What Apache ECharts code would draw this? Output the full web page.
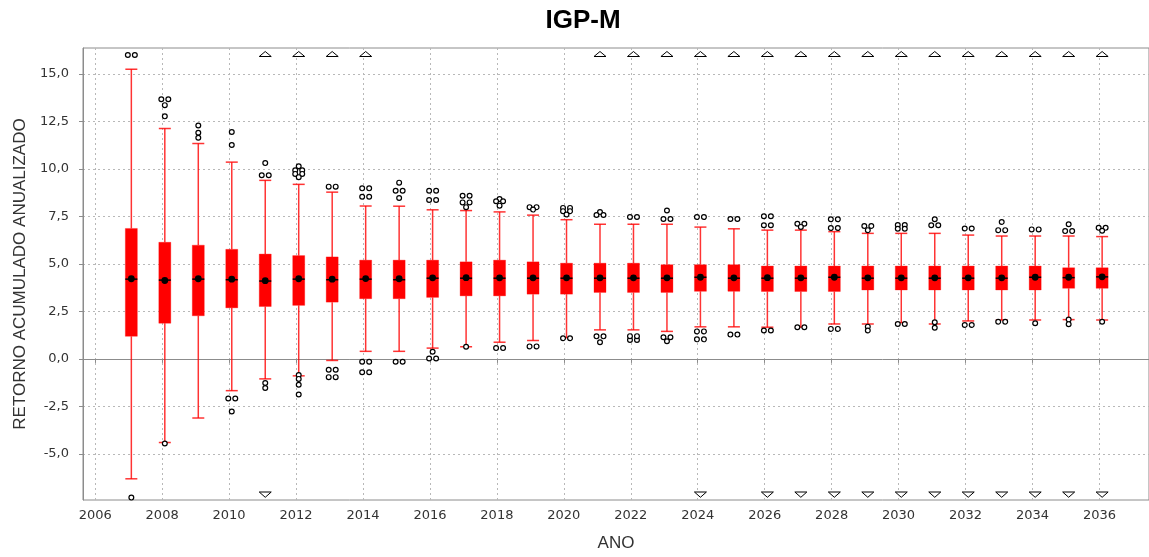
<!DOCTYPE html>
<html>
<head>
<meta charset="utf-8">
<title>IGP-M</title>
<script src="https://cdn.jsdelivr.net/npm/echarts@6/dist/echarts.min.js"></script>
<style>
  html, body { margin: 0; padding: 0; background: #ffffff; }
  #chart { width: 1149px; height: 557px; }
</style>
</head>
<body>
<div id="chart"></div>
<script>
// Annualised accumulated return of the IGP-M, one box per year.
const years = [2007, 2008, 2009, 2010, 2011, 2012, 2013, 2014, 2015, 2016,
               2017, 2018, 2019, 2020, 2021, 2022, 2023, 2024, 2025, 2026,
               2027, 2028, 2029, 2030, 2031, 2032, 2033, 2034, 2035, 2036];

// Upper whisker end (largest non-outlier value)
const whiskerHigh = [15.25, 12.13, 11.34, 10.36, 9.40, 9.19, 8.78, 8.05, 8.04, 7.85,
                     7.81, 7.74, 7.57, 7.33, 7.09, 7.09, 7.09, 6.94, 6.85, 6.78,
                     6.78, 6.70, 6.61, 6.61, 6.61, 6.52, 6.47, 6.47, 6.47, 6.44];

// Third quartile
const q3 = [6.87, 6.14, 5.99, 5.77, 5.52, 5.44, 5.37, 5.20, 5.20, 5.20,
            5.11, 5.20, 5.11, 5.04, 5.04, 5.04, 4.96, 4.96, 4.96, 4.89,
            4.89, 4.89, 4.89, 4.89, 4.89, 4.89, 4.89, 4.89, 4.80, 4.80];

// Median
const median = [4.20, 4.15, 4.20, 4.17, 4.10, 4.20, 4.17, 4.20, 4.17, 4.25,
                4.25, 4.25, 4.25, 4.25, 4.25, 4.25, 4.25, 4.30, 4.25, 4.25,
                4.25, 4.30, 4.25, 4.25, 4.25, 4.25, 4.25, 4.30, 4.28, 4.32];

// Mean
const mean = [4.22, 4.13, 4.22, 4.20, 4.12, 4.22, 4.20, 4.23, 4.22, 4.27,
              4.28, 4.27, 4.27, 4.27, 4.27, 4.27, 4.27, 4.30, 4.27, 4.28,
              4.27, 4.30, 4.27, 4.27, 4.27, 4.27, 4.27, 4.30, 4.30, 4.32];

// First quartile
const q1 = [1.19, 1.88, 2.27, 2.69, 2.76, 2.82, 2.99, 3.17, 3.17, 3.24,
            3.32, 3.32, 3.41, 3.41, 3.50, 3.50, 3.50, 3.56, 3.56, 3.55,
            3.55, 3.55, 3.63, 3.63, 3.63, 3.63, 3.63, 3.63, 3.72, 3.72];

// Lower whisker end (smallest non-outlier value)
const whiskerLow = [-6.31, -4.40, -3.11, -1.67, -1.05, -0.89, -0.08, 0.40, 0.40, 0.57,
                    0.64, 0.88, 0.97, 1.12, 1.53, 1.53, 1.45, 1.69, 1.69, 1.67,
                    1.67, 1.84, 1.84, 1.91, 1.84, 2.00, 2.05, 2.05, 2.07, 2.05];

// Outliers per year; a value listed twice is a group of coinciding outliers
const outliers = [
  [16.0, 16.0, -7.3],
  [13.67, 13.67, 13.36, 12.77, -4.45],
  [12.29, 11.91, 11.64],
  [11.95, 11.26, -2.08, -2.08, -2.77],
  [10.31, 9.67, 9.67, -1.27, -1.53],
  [10.14, 9.93, 9.93, 9.74, 9.74, 9.57, -0.85, -1.05, -1.36, -1.87],
  [9.07, 9.07, -0.57, -0.57, -0.96, -0.96],
  [8.98, 8.98, 8.54, 8.54, -0.15, -0.15, -0.70, -0.70],
  [9.28, 8.85, 8.85, 8.47, -0.15, -0.15],
  [8.85, 8.85, 8.37, 8.37, 0.38, 0.02, 0.02],
  [8.59, 8.59, 8.24, 8.24, 7.99, 0.64],
  [8.42, 8.30, 8.30, 8.07, 0.57, 0.57],
  [7.99, 7.99, 7.86, 0.66, 0.66],
  [7.95, 7.95, 7.78, 7.78, 7.60, 1.09, 1.09],
  [7.73, 7.58, 7.58, 1.19, 1.19, 0.88],
  [7.47, 7.47, 1.20, 1.20, 1.00, 1.00],
  [7.81, 7.37, 7.37, 1.14, 1.14, 0.93],
  [7.47, 7.47, 1.45, 1.45, 1.03, 1.03],
  [7.37, 7.37, 1.28, 1.28],
  [7.51, 7.51, 7.04, 7.04, 1.50, 1.50],
  [7.12, 7.12, 6.95, 1.67, 1.67],
  [7.35, 7.35, 6.89, 6.89, 1.58, 1.58],
  [7.00, 7.00, 6.78, 1.70, 1.50],
  [7.05, 7.05, 6.85, 6.85, 1.84, 1.84],
  [7.35, 7.04, 7.04, 1.93, 1.64],
  [6.87, 6.87, 1.79, 1.79],
  [7.21, 6.78, 6.78, 1.96, 1.96],
  [6.82, 6.82, 1.88],
  [7.09, 6.73, 6.73, 2.07, 1.83],
  [6.90, 6.90, 6.75, 1.96]
];

// Years with values beyond the visible range (marked by triangles)
const farHighYears = [2011, 2012, 2013, 2014, 2021, 2022, 2023, 2024, 2025, 2026,
                      2027, 2028, 2029, 2030, 2031, 2032, 2033, 2034, 2035, 2036];
const farLowYears = [2011, 2024, 2026, 2027, 2028, 2029, 2030, 2031, 2032, 2033,
                     2034, 2035, 2036];

// Tick labels
const xTickLabels = [2006, 2008, 2010, 2012, 2014, 2016, 2018, 2020, 2022, 2024,
                     2026, 2028, 2030, 2032, 2034, 2036];
const yTickLabels = [-5.0, -2.5, 0.0, 2.5, 5.0, 7.5, 10.0, 12.5, 15.0];

// Axis ranges
const X_MIN = 2005.636, X_MAX = 2037.48;
const Y_MIN = -7.426, Y_MAX = 16.368;
// Boxes sit slightly to the right of the year tick
const BOX_SHIFT = 0.08;
const BOX_W = 12;

const boxData = years.map((y, i) =>
  [y + BOX_SHIFT, whiskerHigh[i], q3[i], median[i], q1[i], whiskerLow[i], mean[i]]);

const WHISKER = 'rgba(255,0,0,0.8)';

function outlierCircle(x, y) {
  return {
    type: 'circle',
    shape: { cx: x, cy: y, r: 2.4 },
    style: { fill: '#ffffff', stroke: '#000000', lineWidth: 1.2 }
  };
}

function renderBox(params, api) {
  const i = params.dataIndex;
  const x = api.value(0);
  const pHigh = api.coord([x, api.value(1)]);
  const pQ3 = api.coord([x, api.value(2)]);
  const pMed = api.coord([x, api.value(3)]);
  const pQ1 = api.coord([x, api.value(4)]);
  const pLow = api.coord([x, api.value(5)]);
  const pMean = api.coord([x, api.value(6)]);
  const cx = pMed[0];
  const hw = BOX_W / 2;
  const wStyle = { stroke: WHISKER, lineWidth: 1.5 };

  const children = [
    { type: 'line', shape: { x1: cx, y1: pHigh[1], x2: cx, y2: pQ3[1] }, style: wStyle },
    { type: 'line', shape: { x1: cx, y1: pQ1[1], x2: cx, y2: pLow[1] }, style: wStyle },
    { type: 'line', shape: { x1: cx - hw, y1: pHigh[1], x2: cx + hw, y2: pHigh[1] }, style: wStyle },
    { type: 'line', shape: { x1: cx - hw, y1: pLow[1], x2: cx + hw, y2: pLow[1] }, style: wStyle },
    {
      type: 'rect',
      shape: { x: cx - hw, y: pQ3[1], width: BOX_W, height: pQ1[1] - pQ3[1] },
      style: { fill: '#ff0000', stroke: 'rgba(255,0,0,0.5)', lineWidth: 0.6 }
    },
    { type: 'line', shape: { x1: cx - hw, y1: pMed[1], x2: cx + hw, y2: pMed[1] },
      style: { stroke: '#000000', lineWidth: 1.5 } },
    { type: 'circle', shape: { cx: pMean[0], cy: pMean[1], r: 3.4 },
      style: { fill: '#000000' } }
  ];

  // Outliers: coinciding values are drawn as a side-by-side pair
  const counts = {};
  outliers[i].forEach(v => { counts[v] = (counts[v] || 0) + 1; });
  Object.keys(counts).forEach(k => {
    const py = api.coord([x, Number(k)])[1];
    if (counts[k] > 1) {
      children.push(outlierCircle(cx - 3.5, py), outlierCircle(cx + 3.5, py));
    } else {
      children.push(outlierCircle(cx, py));
    }
  });

  // Triangles for values outside the axis range
  const year = years[i];
  const tStyle = { fill: '#ffffff', stroke: '#000000', lineWidth: 1 };
  if (farHighYears.indexOf(year) >= 0) {
    const top = api.coord([x, Y_MAX])[1];
    children.push({
      type: 'polygon',
      shape: { points: [[cx - 6, top + 8.5], [cx + 6, top + 8.5], [cx, top + 3.5]] },
      style: tStyle
    });
  }
  if (farLowYears.indexOf(year) >= 0) {
    const bottom = api.coord([x, Y_MIN])[1];
    children.push({
      type: 'polygon',
      shape: { points: [[cx - 6, bottom - 8], [cx + 6, bottom - 8], [cx, bottom - 2.7]] },
      style: tStyle
    });
  }
  return { type: 'group', children: children };
}

const tickFont = { fontFamily: 'DejaVu Sans', fontSize: 13, color: '#333333' };
const nameFont = { fontFamily: 'Liberation Sans', fontSize: 17, color: '#333333' };
const gridDash = { type: [2, 3], color: '#b8b8b8', width: 1 };

const chart = echarts.init(document.getElementById('chart'), null, { renderer: 'canvas' });
chart.setOption({
  animation: false,
  backgroundColor: '#ffffff',
  title: {
    text: 'IGP-M',
    left: 583,
    top: 8,
    padding: 0,
    textAlign: 'center',
    textStyle: { fontFamily: 'Liberation Sans', fontWeight: 'bold', fontSize: 26, color: '#000000' }
  },
  grid: {
    left: 83, top: 48, right: -10, bottom: 48,
    show: true, borderColor: '#8c8c8c', borderWidth: 1, backgroundColor: '#ffffff'
  },
  xAxis: {
    type: 'value',
    min: X_MIN, max: X_MAX,
    splitNumber: 16, minInterval: 2, maxInterval: 2,
    name: 'ANO', nameLocation: 'middle', nameGap: 35,
    nameTextStyle: nameFont,
    axisLine: { show: true, lineStyle: { color: '#8c8c8c' } },
    axisTick: { show: true, length: 4, lineStyle: { color: '#8c8c8c' } },
    axisLabel: Object.assign({
      margin: 9, showMinLabel: false, showMaxLabel: false,
      formatter: v => (xTickLabels.indexOf(Math.round(v)) >= 0 && Math.abs(v - Math.round(v)) < 1e-6) ? String(Math.round(v)) : ''
    }, tickFont),
    splitLine: { show: true, showMinLine: false, showMaxLine: false, lineStyle: gridDash }
  },
  yAxis: {
    type: 'value',
    min: Y_MIN, max: Y_MAX,
    splitNumber: 10, minInterval: 2.5, maxInterval: 2.5,
    name: 'RETORNO ACUMULADO ANUALIZADO', nameLocation: 'middle', nameGap: 47,
    nameTextStyle: nameFont,
    axisLine: { show: true, lineStyle: { color: '#8c8c8c' } },
    axisTick: { show: true, length: 4, lineStyle: { color: '#8c8c8c' } },
    axisLabel: Object.assign({
      margin: 14, showMinLabel: false, showMaxLabel: false,
      formatter: v => yTickLabels.some(t => Math.abs(t - v) < 1e-6) ? v.toFixed(1).replace('.', ',') : ''
    }, tickFont),
    splitLine: { show: true, showMinLine: false, showMaxLine: false, lineStyle: gridDash }
  },
  series: [{
    type: 'custom',
    name: 'IGP-M',
    renderItem: renderBox,
    encode: { x: 0, y: [1, 2, 3, 4, 5, 6] },
    data: boxData,
    clip: false,
    z: 3
  }]
});
</script>
</body>
</html>
